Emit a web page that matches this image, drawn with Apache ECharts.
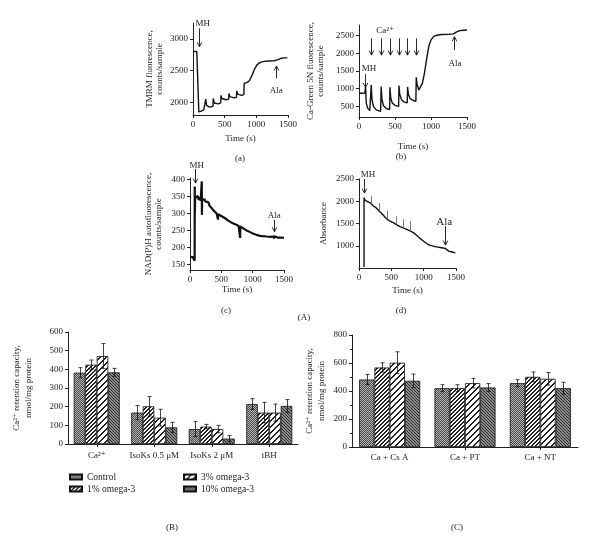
<!DOCTYPE html>
<html><head><meta charset="utf-8">
<script src="https://cdn.jsdelivr.net/npm/echarts@6/dist/echarts.min.js"></script>
<style>html,body{margin:0;padding:0;background:#fff}#c{width:600px;height:553px}</style>
</head><body><div id="c"></div>
<script>
const FONT = '"Liberation Serif", "Times New Roman", "DejaVu Serif", serif';
const INK = '#222';

// ---------- Panel (a): TMRM fluorescence ----------
const tmrmTime  = [0,30,60,88,92,130,170,198,202,215,260,315,320,335,400,437,442,455,520,563,568,582,650,686,691,705,770,803,808,850,890,930,970,1010,1060,1120,1200,1280,1330,1380,1440,1490];
const tmrmValue = [2800,2790,2800,2795,1850,1860,1880,1890,2050,1950,1925,1935,2060,1990,1975,1990,2110,2060,2040,2050,2140,2090,2070,2080,2180,2130,2110,2120,2300,2310,2340,2420,2520,2590,2630,2645,2650,2655,2670,2690,2700,2700];

// ---------- Panel (b): Ca-Green 5N fluorescence ----------
const cagTime  = [0,40,80,88,92,100,120,150,165,170,180,200,240,300,308,318,340,380,425,430,440,460,500,550,555,565,590,630,670,675,685,710,760,790,795,805,830,850,880,910,940,970,1000,1040,1080,1150,1250,1310,1350,1400,1450,1500];
const cagValue = [870,870,875,870,1050,600,450,380,370,1100,700,500,400,360,1060,700,520,440,410,1040,750,600,530,500,1090,850,690,620,600,1050,850,720,660,640,1320,1150,960,980,1150,1450,1850,2200,2380,2480,2510,2530,2540,2550,2600,2640,2650,2660];
const caAddTime = [168,312,433,554,671,787];

// ---------- Panel (c): NAD(P)H autofluorescence ----------
const nadTime  = [0,15,30,45,60,72,74,76,78,82,95,110,125,140,155,170,186,188,190,193,210,230,250,270,290,300,315,330,346,370,400,425,445,447,449,479,505,530,560,585,610,640,665,692,720,750,775,798,800,803,825,850,875,904,930,960,985,1011,1060,1117,1170,1224,1280,1330,1340,1345,1400,1450,1500];
const nadValue = [172,170,174,171,173,170,160,380,300,345,350,342,352,340,348,338,342,395,296,340,336,342,335,340,334,335,322,318,316,310,305,300,296,282,298,296,292,290,286,281,279,276,273,271,268,266,264,262,228,262,259,256,253,250,247,245,242,240,237,234,233,232,231,232,226,233,229,229,228];

// ---------- Panel (d): Absorbance ----------
const absTime  = [78,78,88,120,166,220,270,320,374,410,451,490,529,580,633,685,737,790,841,890,944,1000,1048,1100,1152,1200,1256,1300,1334,1360,1386,1440,1490];
const absValue = [525,2080,2030,2000,1970,1900,1845,1770,1690,1630,1580,1545,1520,1475,1430,1400,1370,1335,1295,1235,1165,1100,1050,1010,990,975,960,950,940,905,880,860,840];
const absSpikeTime = [192,311,436,571,685,799];
const absSpikeBase = [1940,1780,1600,1480,1400,1330];
const absSpikeTop  = [2120,1960,1790,1660,1595,1555];

// ---------- Panel (B) ----------
const catsB = ['Ca²⁺','IsoKs 0.5 μM','IsoKs 2 μM','tBH'];
const groupNames = ['Control','1% omega-3','3% omega-3','10% omega-3'];
const bControl = [382,168,80,214];
const bOmega1  = [425,202,93,168];
const bOmega3  = [471,141,80,168];
const bOmega10 = [384,89,29,204];
const bControlErr = [27,38,40,29];
const bOmega1Err  = [25,52,12,55];
const bOmega3Err  = [67,45,20,46];
const bOmega10Err = [21,27,16,34];

// ---------- Panel (C) ----------
const catsC = ['Ca + Cs A','Ca + PT','Ca + NT'];
const cControl = [482,420,456];
const cOmega1  = [568,420,501];
const cOmega3  = [602,456,487];
const cOmega10 = [473,425,420];
const cControlErr = [36,25,25];
const cOmega1Err  = [33,25,35];
const cOmega3Err  = [78,34,45];
const cOmega10Err = [48,28,42];

// tick label values
const ticksA = [2000,2500,3000];
const ticksBy = [500,1000,1500,2000,2500];
const ticksC = [150,200,250,300,350,400];
const ticksD = [1000,1500,2000,2500];

function makePattern(size, fn) {
  const cv = document.createElement('canvas'); cv.width = size; cv.height = size;
  const ctx = cv.getContext('2d'); const img = ctx.createImageData(size, size);
  for (let y = 0; y < size; y++) for (let x = 0; x < size; x++) {
    const g = fn(x, y); const i = (y * size + x) * 4;
    img.data[i] = g; img.data[i+1] = g; img.data[i+2] = g; img.data[i+3] = 255;
  }
  ctx.putImageData(img, 0, 0);
  return { image: cv, repeat: 'repeat' };
}
const patterns = [
  makePattern(2, (x, y) => ((x + y) % 2 ? 0x4a : 0xb4)),
  makePattern(4, (x, y) => (((x + y) % 4) < 2 ? 0x22 : 0xff)),
  makePattern(6, (x, y) => (((x + y) % 6) < 2 ? 0x22 : 0xff)),
  makePattern(3, (x, y) => (((x - y + 9) % 3) === 0 ? 0x2a : 0x8c))
];

const chart = echarts.init(document.getElementById('c'), null, { renderer: 'canvas' });
const txt = { fontFamily: FONT, fontSize: 9, color: INK };
const plain = v => String(v);
const axisLine = { show: true, lineStyle: { color: INK, width: 1 } };
const tick = { show: true, inside: false, length: 3, lineStyle: { color: INK } };

function timeAxis(g, gap) {
  return { type: 'value', gridIndex: g, min: 0, max: 1500, interval: 500,
    axisLine, axisTick: tick, splitLine: { show: false },
    axisLabel: Object.assign({ margin: 5, formatter: plain }, txt),
    name: 'Time (s)', nameLocation: 'middle', nameGap: gap, nameTextStyle: txt };
}
function valAxis(g, min, max, ticks, name, gap) {
  return { type: 'value', gridIndex: g, min, max,
    axisLine, splitLine: { show: false },
    axisTick: Object.assign({ customValues: ticks }, tick),
    axisLabel: Object.assign({ margin: 5, customValues: ticks, formatter: plain }, txt),
    name, nameLocation: 'middle', nameGap: gap, nameRotate: 90,
    nameTextStyle: Object.assign({ lineHeight: 10.5 }, txt) };
}

const grids = [
  { left: 193, top: 23, width: 95, height: 92 },
  { left: 359, top: 25, width: 108, height: 92 },
  { left: 190, top: 178, width: 94, height: 92 },
  { left: 359, top: 179, width: 97, height: 89 },
  { left: 68, top: 332, width: 230, height: 112 },
  { left: 352, top: 335, width: 226, height: 112 }
];

const xAxes = [
  timeAxis(0, 19), timeAxis(1, 25), timeAxis(2, 13), timeAxis(3, 18),
  { type: 'category', gridIndex: 4, data: catsB, axisLine, splitLine: { show: false },
    axisTick: Object.assign({ alignWithLabel: true, interval: 0 }, tick),
    axisLabel: Object.assign({ margin: 7, interval: 0, hideOverlap: false }, txt) },
  { type: 'category', gridIndex: 5, data: catsC, axisLine, splitLine: { show: false },
    axisTick: Object.assign({ alignWithLabel: true, interval: 0 }, tick),
    axisLabel: Object.assign({ margin: 6, interval: 0, hideOverlap: false }, txt) }
];
const yAxes = [
  valAxis(0, 1800, 3250, ticksA, 'TMRM fluorescence,\ncounts/sample', 28),
  valAxis(1, 200, 2800, ticksBy, 'Ca-Green 5N fluorescence,\ncounts/sample', 33),
  valAxis(2, 133, 405, ticksC, 'NAD(P)H autofluorescence,\ncounts/sample', 26),
  valAxis(3, 500, 2500, ticksD, 'Absorbance', 30),
  { type: 'value', gridIndex: 4, min: 0, max: 600, interval: 100, axisLine, axisTick: tick,
    splitLine: { show: false }, axisLabel: Object.assign({ margin: 5, formatter: plain }, txt),
    name: 'Ca²⁺ retention capacity,\nnmol/mg protein', nameLocation: 'middle', nameGap: 33,
    nameTextStyle: Object.assign({ lineHeight: 12 }, txt) },
  { type: 'value', gridIndex: 5, min: 0, max: 800, interval: 200, axisLine, axisTick: tick,
    minorTick: { show: true, splitNumber: 2, length: 2, lineStyle: { color: INK } },
    splitLine: { show: false }, axisLabel: Object.assign({ margin: 5, formatter: plain }, txt),
    name: 'Ca²⁺ retention capacity,\nnmol/mg protein', nameLocation: 'middle', nameGap: 24,
    nameTextStyle: Object.assign({ lineHeight: 12 }, txt) }
];

function trace(g, t, v, w) {
  return { type: 'line', xAxisIndex: g, yAxisIndex: g, showSymbol: false, symbol: 'none',
    data: t.map((x, i) => [x, v[i]]), lineStyle: { color: '#111', width: w }, silent: true };
}

const series = [
  trace(0, tmrmTime, tmrmValue, 1.4),
  trace(1, cagTime, cagValue, 1.4),
  trace(2, nadTime, nadValue, 2.2),
  Object.assign(trace(3, absTime, absValue, 1.4), {
    markLine: { silent: true, symbol: ['none', 'none'], label: { show: false },
      lineStyle: { color: '#777', type: 'solid', width: 1 },
      data: absSpikeTime.map((t, i) => [{ coord: [t, absSpikeBase[i]] }, { coord: [t, absSpikeTop[i]] }]) }
  })
];

const bVals = [bControl, bOmega1, bOmega3, bOmega10];
const bErrs = [bControlErr, bOmega1Err, bOmega3Err, bOmega10Err];
const cVals = [cControl, cOmega1, cOmega3, cOmega10];
const cErrs = [cControlErr, cOmega1Err, cOmega3Err, cOmega10Err];
const GAP_B = 0.2, GAP_C = 0.19;

function barSeries(g, vals, idx, gap) {
  return { type: 'bar', name: groupNames[idx], xAxisIndex: g, yAxisIndex: g, data: vals,
    barGap: '0%', barCategoryGap: (gap * 100) + '%',
    itemStyle: { color: patterns[idx], borderColor: '#111', borderWidth: 0.8 }, silent: true };
}
function errSeries(g, vals, errs, idx, gap) {
  return { type: 'custom', xAxisIndex: g, yAxisIndex: g, z: 10, silent: true,
    data: vals.map((v, k) => [k, v, errs[k]]), encode: { x: 0, y: 1 },
    renderItem(params, api) {
      const k = api.value(0), v = api.value(1), e = api.value(2);
      const band = api.size([1, 0])[0];
      const gw = band * (1 - gap), bw = gw / 4;
      const cx = Math.round(api.coord([k, v])[0] - gw / 2 + bw * (idx + 0.5)) + 0.5;
      const y1 = api.coord([k, v + e])[1], y2 = api.coord([k, v - e])[1];
      const st = { stroke: '#111', lineWidth: 0.8 };
      return { type: 'group', children: [
        { type: 'line', shape: { x1: cx, y1, x2: cx, y2 }, style: st },
        { type: 'line', shape: { x1: cx - 2, y1, x2: cx + 2, y2: y1 }, style: st },
        { type: 'line', shape: { x1: cx - 2, y1: y2, x2: cx + 2, y2 }, style: st }
      ] };
    } };
}
for (let i = 0; i < 4; i++) {
  series.push(barSeries(4, bVals[i], i, GAP_B));
  series.push(barSeries(5, cVals[i], i, GAP_C));
}
for (let i = 0; i < 4; i++) {
  series.push(errSeries(4, bVals[i], bErrs[i], i, GAP_B));
  series.push(errSeries(5, cVals[i], cErrs[i], i, GAP_C));
}

const legendBase = { orient: 'vertical', itemWidth: 12, itemHeight: 5, itemGap: 2, icon: 'rect',
  selectedMode: false, padding: 0, textStyle: { fontFamily: FONT, fontSize: 9.5, color: INK } };

chart.setOption({
  animation: false,
  backgroundColor: '#fff',
  grid: grids,
  xAxis: xAxes,
  yAxis: yAxes,
  legend: [
    Object.assign({ left: 69, top: 472, data: ['Control', '1% omega-3'] }, legendBase),
    Object.assign({ left: 183, top: 472, data: ['3% omega-3', '10% omega-3'] }, legendBase)
  ],
  series
});

// ---------- annotations (arrows & labels) in data coordinates ----------
const arrows = [
  { g: 0, t: 91, from: 3166, to: 2876 },
  { g: 0, t: 1314, from: 2378, to: 2572 },
  { g: 1, t: 88, from: 1411, to: 1034 },
  { g: 1, t: 1324, from: 2091, to: 2468 },
  { g: 2, t: 80, from: 432, to: 390 },
  { g: 2, t: 1340, from: 281, to: 246 },
  { g: 3, t: 84, from: 2499, to: 2183 },
  { g: 3, t: 1323, from: 1444, to: 1015 }
].concat(caAddTime.map(t => ({ g: 1, t, from: 2423, to: 1949 })));
const notes = [
  { g: 0, t: 154, v: 3234, s: 'MH', size: 9 },
  { g: 0, t: 1314, v: 2183, s: 'Ala', size: 9 },
  { g: 1, t: 361, v: 2638, s: 'Ca²⁺', size: 9 },
  { g: 1, t: 139, v: 1572, s: 'MH', size: 9 },
  { g: 1, t: 1333, v: 1714, s: 'Ala', size: 9 },
  { g: 2, t: 107, v: 441, s: 'MH', size: 9 },
  { g: 2, t: 1345, v: 293, s: 'Ala', size: 9 },
  { g: 3, t: 140, v: 2596, s: 'MH', size: 9 },
  { g: 3, t: 1318, v: 1541, s: 'Ala', size: 11 }
];
const gfx = [];
arrows.forEach(a => {
  const p1 = chart.convertToPixel({ gridIndex: a.g }, [a.t, a.from]);
  const p2 = chart.convertToPixel({ gridIndex: a.g }, [a.t, a.to]);
  const x = Math.round(p1[0]) + 0.5, dir = p2[1] > p1[1] ? 1 : -1;
  const st = { stroke: '#111', lineWidth: 0.9, fill: null };
  gfx.push({ type: 'line', shape: { x1: x, y1: p1[1], x2: x, y2: p2[1] }, style: st, silent: true });
  gfx.push({ type: 'polyline', shape: { points: [[x - 2.3, p2[1] - dir * 4.5], [x, p2[1]], [x + 2.3, p2[1] - dir * 4.5]] }, style: st, silent: true });
});
notes.forEach(n => {
  const p = chart.convertToPixel({ gridIndex: n.g }, [n.t, n.v]);
  gfx.push({ type: 'text', x: p[0], y: p[1], silent: true,
    style: { text: n.s, fontFamily: FONT, fontSize: n.size, fill: INK, align: 'center', verticalAlign: 'middle' } });
});
const panelLabels = [
  ['(a)', 240, 159], ['(b)', 401, 157], ['(c)', 226, 311], ['(d)', 401, 311],
  ['(A)', 304, 318], ['(B)', 172, 528], ['(C)', 457, 528]
];
panelLabels.forEach(l => gfx.push({ type: 'text', x: l[1], y: l[2], silent: true,
  style: { text: l[0], fontFamily: FONT, fontSize: 9, fill: INK, align: 'center', verticalAlign: 'middle' } }));
chart.setOption({ graphic: gfx });
</script></body></html>
